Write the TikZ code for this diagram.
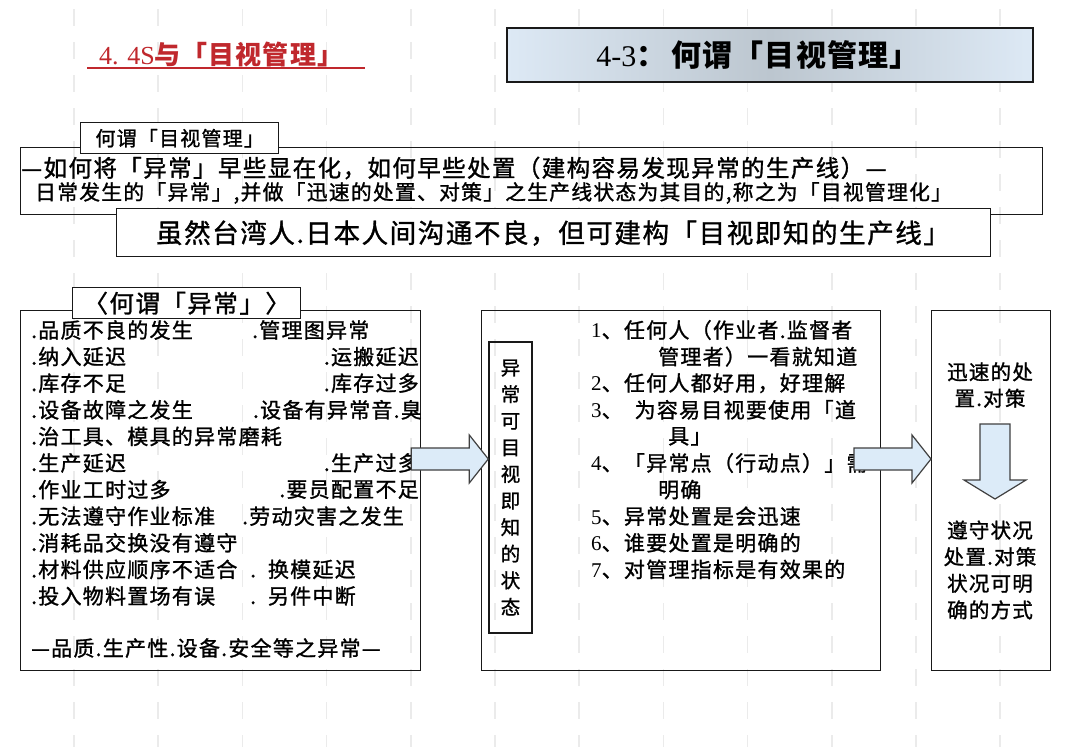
\documentclass[tikz,border=0pt]{standalone}
\usepackage{fontspec}
\setmainfont{Liberation Serif}
\newfontfamily\cjk{Noto Sans CJK SC}[LetterSpace=6,FakeBold=1.2]
\newfontfamily\cjkhead{Noto Sans CJK SC}[LetterSpace=4]
\usetikzlibrary{calc}
\definecolor{titlered}{HTML}{C0282D}
\definecolor{gridgray}{HTML}{EBEBEB}
\definecolor{arrowblue}{HTML}{DCEBF8}
\definecolor{titleblue}{HTML}{DDE9F5}
\definecolor{titlegray}{HTML}{BCC6CF}
\tikzset{
  frame/.style={draw=black!90,line width=1.4pt},
  tabbox/.style={frame,fill=white,inner sep=0pt},
  listitem/.style={anchor=west,inner sep=0pt,font=\cjk\fontsize{21}{24}\selectfont},
  stepitem/.style={anchor=west,inner sep=0pt,font=\cjk\fontsize{21}{24}\selectfont},
  blockarrow/.style={draw=black!75,line width=1.2pt,fill=arrowblue,line join=miter},
  gridline/.style={gridgray,line width=1.6pt,dash pattern=on 17pt off 16pt}
}

\begin{document}
\begin{tikzpicture}[x=1pt,y=-1pt]
\useasboundingbox (0,0) rectangle (1080,747);
\fill[white] (0,0) rectangle (1080,747);
\foreach \k in {0,...,11} \draw[gridline] ({74+84.2*\k},9) -- ({74+84.2*\k},747);

% titles
\node[text=titlered,anchor=west,inner sep=0pt,font=\fontsize{26}{30}\selectfont] (ttl) at (99,55) {4. 4S{\cjkhead\bfseries 与「目视管理」}};
\draw[titlered,line width=1.8pt] (87,68) -- (365,68);
\node[frame,line width=2.4pt,left color=titleblue,right color=titleblue,middle color=titlegray,minimum width=526pt,minimum height=54pt] (ttlbox) at (770,55) {};
\node[inner sep=0pt,font=\fontsize{30}{34}\selectfont] (ttltext) at (758,55) {4-3{\cjkhead\bfseries ：\,何谓「目视管理」}};

% definition
\node[frame,minimum width=1022pt,minimum height=67pt,anchor=north west] (defbox) at (20,147) {};
\node[tabbox,minimum width=198pt,minimum height=31pt,anchor=north west,font=\cjk\fontsize{20}{24}\selectfont] (deftab) at (80,122) {何谓「目视管理」};
\node[anchor=west,inner sep=0pt,font=\cjk\fontsize{23.5}{26}\selectfont] (defline1) at (21,168) {—如何将「异常」早些显在化，如何早些处置（建构容易发现异常的生产线）—};
\node[anchor=west,inner sep=0pt,font=\cjk\fontsize{20.8}{24}\selectfont] (defline2) at (35,193) {日常发生的「异常」,并做「迅速的处置、对策」之生产线状态为其目的,称之为「目视管理化」};
\node[tabbox,minimum width=874pt,minimum height=48pt,anchor=north west] (linebox) at (116,208) {};
\node[inner sep=0pt,font=\cjk\fontsize{26.5}{30}\selectfont] (linetext) at (553,233) {虽然台湾人.日本人间沟通不良，但可建构「目视即知的生产线」};

% abnormalities
\node[frame,minimum width=400pt,minimum height=360pt,anchor=north west] (causebox) at (20,310) {};
\node[tabbox,minimum width=228pt,minimum height=31pt,anchor=north west,font=\cjk\fontsize{24.5}{28}\selectfont] (causetab) at (72,287) {〈何谓「异常」〉};
\foreach \t [count=\i] in {.品质不良的发生,.纳入延迟,.库存不足,.设备故障之发生,.治工具、模具的异常磨耗,.生产延迟,.作业工时过多,.无法遵守作业标准,.消耗品交换没有遵守,.材料供应顺序不适合,.投入物料置场有误}
  \node[listitem] (causeL\i) at (31,{330+26.6*(\i-1)}) {\t};
\foreach \i/\a/\x/\t in {1/west/252/.管理图异常,2/east/419/.运搬延迟,3/east/419/.库存过多,4/east/422/.设备有异常音.臭,6/east/419/.生产过多,7/east/419/.要员配置不足,8/west/242/.劳动灾害之发生,10/west/250/.\ \ 换模延迟,11/west/250/.\ \ 另件中断}
  \node[listitem,anchor=\a] (causeR\i) at (\x,{330+26.6*(\i-1)}) {\t};
\node[listitem] (causesum) at (31,648) {—品质.生产性.设备.安全等之异常—};

% visible state
\node[frame,minimum width=399pt,minimum height=360pt,anchor=north west] (statebox) at (481,310) {};
\node[frame,align=center,inner sep=0pt,minimum width=43pt,minimum height=291pt,font=\cjk\fontsize{19.5}{26.6}\selectfont] (vbox) at (510.5,487.5) {异\\常\\可\\目\\视\\即\\知\\的\\状\\态};
\foreach \x/\t [count=\i] in {591/\textrm{1}、任何人（作业者.监督者,658/管理者）一看就知道,591/\textrm{2}、任何人都好用，好理解,591/\textrm{3}、\ \ 为容易目视要使用「道,668/具」,591/\textrm{4}、「异常点（行动点）」需,658/明确,591/\textrm{5}、异常处置是会迅速,591/\textrm{6}、谁要处置是明确的,591/\textrm{7}、对管理指标是有效果的}
  \node[stepitem] (step\i) at (\x,{330+26.6*(\i-1)}) {\t};

% countermeasures
\node[frame,minimum width=119pt,minimum height=360pt,anchor=north west] (actbox) at (931,310) {};
\node[align=center,inner sep=0pt,font=\cjk\fontsize{20.5}{26.4}\selectfont] (acttext) at (990,385) {迅速的处\\置.对策};
\node[align=center,inner sep=0pt,font=\cjk\fontsize{20.5}{26.6}\selectfont] (ruletext) at (990,570) {遵守状况\\处置.对策\\状况可明\\确的方式};

% block arrows
\draw[blockarrow] (vbox.west |- 0,459) -- ++(-19,-24) -- ++(0,13) -- ++(-58,0) -- ++(0,22) -- ++(58,0) -- ++(0,13) -- cycle;
\draw[blockarrow] (actbox.west |- 0,459) -- ++(-19,-24) -- ++(0,13) -- ++(-58,0) -- ++(0,22) -- ++(58,0) -- ++(0,13) -- cycle;
\coordinate (downtip) at (995,499);
\draw[blockarrow] (downtip) -- ++(-31,-19) -- ++(16,0) -- ++(0,-56) -- ++(30,0) -- ++(0,56) -- ++(16,0) -- cycle;
\end{tikzpicture}
\end{document}
